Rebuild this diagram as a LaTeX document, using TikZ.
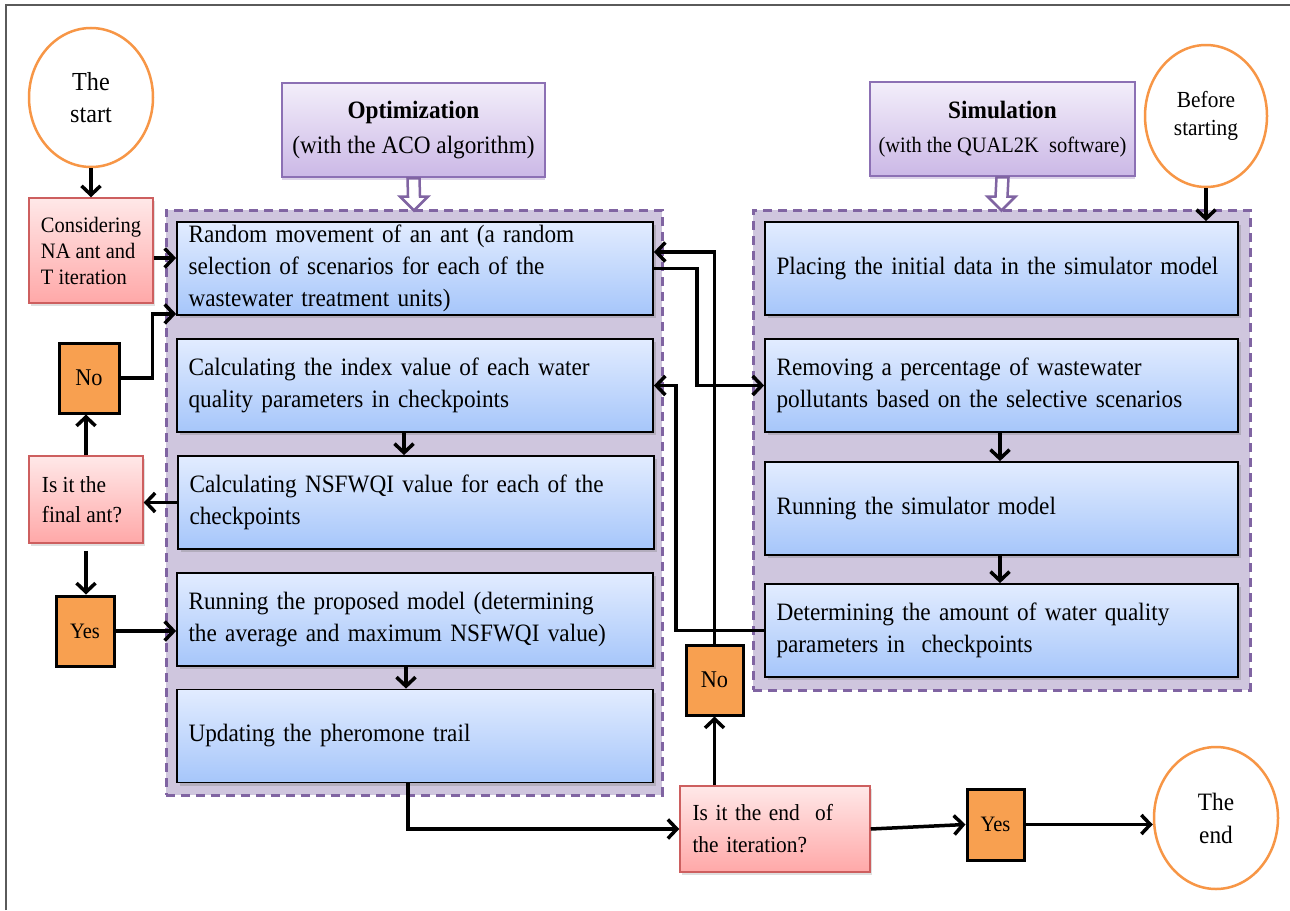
\documentclass[tikz,border=0pt]{standalone}
\usepackage{fontspec}
\setmainfont{Liberation Serif}[FakeStretch=0.93]
\usetikzlibrary{shapes.geometric,arrows.meta,shadows,calc}
\definecolor{bluetop}{RGB}{226,236,255}
\definecolor{bluebot}{RGB}{166,198,250}
\definecolor{panelfill}{RGB}{207,198,222}
\definecolor{dashpurple}{RGB}{128,100,162}
\definecolor{headtop}{RGB}{243,238,250}
\definecolor{headbot}{RGB}{203,184,230}
\definecolor{headdraw}{RGB}{140,112,180}
\definecolor{pinktop}{RGB}{255,232,232}
\definecolor{pinkbot}{RGB}{255,168,168}
\definecolor{pinkdraw}{RGB}{205,95,95}
\definecolor{orangefill}{RGB}{248,160,80}
\definecolor{ellorange}{RGB}{247,150,70}
\definecolor{framegray}{RGB}{90,90,90}
\newcommand\fsz[2]{\fontsize{#1}{#2}\selectfont}
\begin{document}
\begin{tikzpicture}[x=1pt,y=-1pt,
  arr/.style={line width=3.5pt,-{Straight Barb[length=9pt,width=19pt]}},
  bluebox/.style={draw=black,line width=1.8pt,top color=bluetop,bottom color=bluebot,
    minimum height=93pt,inner xsep=11.5pt,inner ysep=2pt,align=left,font=\fsz{25}{32},
    drop shadow={shadow xshift=2.5pt,shadow yshift=-3pt,opacity=0.35}},
  optbox/.style={bluebox,minimum width=476pt,text width=453pt},
  simbox/.style={bluebox,minimum width=473pt,text width=450pt},
  panelbox/.style={draw=dashpurple,line width=3pt,dash pattern=on 9pt off 6pt,fill=panelfill,inner sep=0pt},
  header/.style={draw=headdraw,line width=2.5pt,top color=headtop,bottom color=headbot,
    minimum width=263pt,minimum height=94pt,align=center,inner sep=0pt,
    drop shadow={shadow xshift=0pt,shadow yshift=-3pt,opacity=0.3,fill=headdraw}},
  hollow/.style={draw=dashpurple,line width=2.5pt,fill=white,line join=miter},
  pinkbox/.style={draw=pinkdraw,line width=1.5pt,top color=pinktop,bottom color=pinkbot,
    align=left,inner ysep=0pt,inner xsep=6pt,
    drop shadow={shadow xshift=2pt,shadow yshift=-3pt,opacity=0.25}},
  orangebox/.style={draw=black,line width=3pt,fill=orangefill,inner sep=0pt,font=\fsz{24}{26}},
  ovalnode/.style={ellipse,draw=ellorange,line width=2.5pt,fill=white,inner sep=0pt,align=center}
]
\useasboundingbox (0,0) rectangle (1290,910);
\fill[white] (0,0) rectangle (1290,910);
% frame
\draw[framegray,line width=1.5pt] (6,910) -- (6,5) -- (1290,5);

% panels
\node[panelbox,minimum width=496pt,minimum height=585pt] (optpanel) at (414,502.5) {};
\node[panelbox,minimum width=497pt,minimum height=480pt] (simpanel) at (1001.5,450) {};

% headers
\node[header,font=\fsz{25}{35}] (opth) at (413.5,130) {\textbf{Optimization}\\(with the ACO algorithm)};
\node[header,minimum width=265pt,font=\fsz{25}{34}] (simh) at (1002.5,129) {\textbf{Simulation}\\\fsz{22}{34}(with the QUAL2K\ \ software)};

% hollow arrows
\draw[hollow] ($(opth.south)+(-6,0)$) -- ($(optpanel.north)+(-6,-12)$) -- ($(optpanel.north)+(-14,-12)$)
  -- ($(optpanel.north)+(0,2)$) -- ($(optpanel.north)+(14,-12)$) -- ($(optpanel.north)+(6,-12)$)
  -- ($(opth.south)+(6,0)$) -- cycle;
\draw[hollow] ($(simh.south)+(-6,0)$) -- ($(simpanel.north)+(-6,-12)$) -- ($(simpanel.north)+(-14,-12)$)
  -- ($(simpanel.north)+(0,2)$) -- ($(simpanel.north)+(14,-12)$) -- ($(simpanel.north)+(6,-12)$)
  -- ($(simh.south)+(6,0)$) -- cycle;

% optimization boxes
\node[optbox] (o1) at (415,268.5) {Random movement of an ant (a random\\selection of scenarios for each of the\\wastewater treatment units)};
\node[optbox] (o2) at (415,385.5) {Calculating the index value of each water\\quality parameters in checkpoints};
\node[optbox] (o3) at (416,502.5) {Calculating NSFWQI value for each of the\\checkpoints};
\node[optbox] (o4) at (415,619.5) {Running the proposed model (determining\\the average and maximum NSFWQI value)};
\node[optbox] (o5) at (415,736) {Updating the pheromone trail};

% simulation boxes
\node[simbox] (s1) at (1001.5,268.5) {Placing the initial data in the simulator model};
\node[simbox] (s2) at (1001.5,385.5) {Removing a percentage of wastewater\\pollutants based on the selective scenarios};
\node[simbox] (s3) at (1001.5,508.5) {Running the simulator model};
\node[simbox] (s4) at (1001.5,630.5) {Determining the amount of water quality\\parameters in\ \ checkpoints};

% ovals
\node[ovalnode,minimum width=124pt,minimum height=139pt,font=\fsz{26}{32}] (start) at (91,97.5) {The\\start};
\node[ovalnode,minimum width=122pt,minimum height=142pt,font=\fsz{23}{28}] (before) at (1206,116) {Before\\starting};
\node[ovalnode,minimum width=124pt,minimum height=142pt,font=\fsz{25}{33}] (theend) at (1216,818) {The\\end};

% pink boxes
\node[pinkbox,minimum width=124pt,minimum height=105pt,font=\fsz{22}{26}] (cons) at (91,250.5) {Considering\\NA ant and\\T iteration};
\node[pinkbox,minimum width=114pt,minimum height=87pt,font=\fsz{23}{30}] (finalq) at (86,499.5) {Is it the\\final ant?\hspace*{8pt}};
\node[pinkbox,minimum width=190pt,minimum height=86pt,text width=165pt,inner xsep=12.5pt,font=\fsz{23}{32}] (endq) at (775,829) {Is it the end\ \ of\\the iteration?};

% orange boxes
\node[orangebox,minimum width=60pt,minimum height=70pt] (noL) at (89,378) {No};
\node[orangebox,minimum width=58pt,minimum height=70pt,font=\fsz{22}{24}] (yesL) at (85,631) {Yes};
\node[orangebox,minimum width=57pt,minimum height=70pt] (noM) at (714.5,680) {No};
\node[orangebox,minimum width=57pt,minimum height=71pt,font=\fsz{22}{24}] (yesR) at (995.5,824.5) {Yes};

% connectors
\draw[arr] (start.south) -- (cons.north);
\coordinate (c1) at ([yshift=-7.5pt]cons.east);
\draw[arr] (c1) -- (c1 -| o1.west);
\draw[arr] (noL.east) -- ++(32,0) |- ([yshift=2pt]o1.south west);
\draw[arr] (finalq.north) -- (finalq.north |- noL.south);
\draw[arr] (o3.west) -- (o3.west -| finalq.east);
\draw[arr] ([yshift=-7pt]finalq.south) -- (finalq.south |- yesL.north);
\draw[arr] (yesL.east) -- (yesL.east -| o4.west);
\draw[arr] ([xshift=-11pt]o2.south) -- ([xshift=-11pt]o2.south |- o3.north);
\draw[arr] ([xshift=-9pt]o4.south) -- ([xshift=-9pt]o5.north);
\draw[arr] ([xshift=-7pt]o5.south) |- (endq.west);
\draw[arr] (noM.south |- endq.north) -- (noM.south);
\draw[arr] (noM.north) |- ([yshift=16.5pt]o1.east);
\draw[arr] (o1.east) -- ++(43,0) |- (s2.west);
\draw[arr] (s4.west) -- ++(-88,0) |- (o2.east);
\draw[arr] ([xshift=-1.5pt]s2.south) -- ([xshift=-1.5pt]s3.north);
\draw[arr] ([xshift=-1.5pt]s3.south) -- ([xshift=-1.5pt]s4.north);
\draw[arr] (before.south) -- (before.south |- s1.north);
\draw[arr] (endq.east) -- (yesR.west);
\draw[arr] (yesR.east) -- (yesR.east -| theend.west);
\end{tikzpicture}
\end{document}
